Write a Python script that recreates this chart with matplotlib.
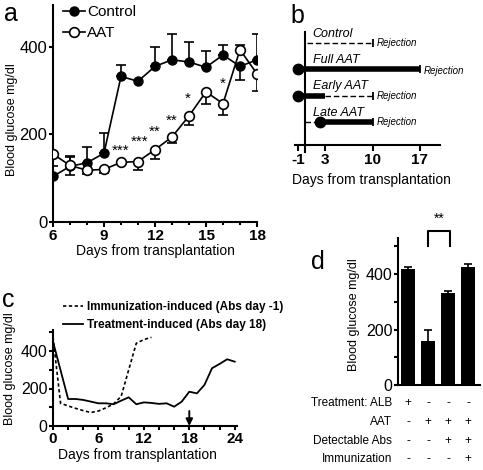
import numpy as np
import matplotlib.pyplot as plt

plt.rcParams['font.family'] = ['Liberation Sans', 'DejaVu Sans']
plt.rcParams['axes.unicode_minus'] = False
plt.rcParams['axes.linewidth'] = 1.5
plt.rcParams['xtick.major.width'] = 1.5
plt.rcParams['ytick.major.width'] = 1.5
plt.rcParams['xtick.minor.width'] = 1.5
plt.rcParams['ytick.minor.width'] = 1.5

# --- panel a: glucose after transplantation
days_a = np.arange(6, 19)
control = np.array([104, 127, 135, 157, 332, 321, 355, 370, 365, 353, 381, 355, 370])
control_up = np.array([24, 22, 37, 45, 26, 0, 45, 59, 46, 36, 23, 0, 59])
control_down = np.array([0, 0, 0, 0, 0, 0, 0, 0, 0, 0, 0, 30, 0])
aat = np.array([155, 129, 118, 120, 136, 138, 165, 194, 242, 297, 270, 393, 338])
aat_up = np.array([0, 22, 0, 0, 0, 0, 0, 0, 0, 0, 0, 11, 0])
aat_down = np.array([0, 22, 8, 8, 0, 20, 21, 14, 21, 28, 26, 0, 39])
star_x = [10.0, 11.1, 12.0, 13.0, 13.9, 16.0]
star_y = [174, 195, 216, 242, 291, 327]
star_txt = ['***', '***', '**', '**', '*', '*']

# --- panel b: treatment schedules
rows = ['Control', 'Full AAT', 'Early AAT', 'Late AAT']
row_y = [4, 3, 2, 1]
treat_start = [None, -1, -1, 2.2]
treat_end = [None, 17, 3, 10]
dash_start = [0.3, None, 3, 0]
dash_end = [10, None, 10, 2.2]
reject_day = [10, 17, 10, 10]
b_ticks = [-1, 3, 10, 17]

# --- panel c: single mice
immun_days = [0, 1, 2, 3, 4, 5, 6, 7, 8, 9, 10, 11, 12, 13]
immun = [475, 121, 107, 94, 82, 72, 80, 97, 118, 158, 300, 441, 461, 473]
treat_days = [0, 2, 3, 4, 5, 6, 7, 8, 9, 10, 11, 12, 13, 14, 15, 16, 17, 18, 19, 20, 21, 22, 23, 24]
treat = [450, 144, 144, 139, 130, 121, 121, 116, 135, 153, 116, 126, 123, 118, 121, 103, 130, 183,
         174, 219, 308, 331, 356, 343]

# --- panel d: groups
bar_vals = [420, 160, 330, 425]
bar_err = [6, 37, 10, 10]
table_rows = ['Treatment: ALB', 'AAT', 'Detectable Abs', 'Immunization']
table_signs = [['+', '-', '-', '-'],
               ['-', '+', '+', '+'],
               ['-', '-', '+', '+'],
               ['-', '-', '-', '+']]

W, H = 483, 470
fig = plt.figure(figsize=(W / 100, H / 100), dpi=100)


def box(l, t, r, b):
    return [l / W, 1 - b / H, (r - l) / W, (b - t) / H]


def clean(ax):
    ax.spines['top'].set_visible(False)
    ax.spines['right'].set_visible(False)


# ===== a =====
ax = fig.add_axes(box(53, 5, 257, 222))
clean(ax)
m = (control_up + control_down) > 0
ax.errorbar(days_a[m], control[m], yerr=[control_down[m], control_up[m]], fmt='none',
            ecolor='k', elinewidth=1.2, capsize=3.5, capthick=1.2, zorder=2)
m = (aat_up + aat_down) > 0
ax.errorbar(days_a[m], aat[m], yerr=[aat_down[m], aat_up[m]], fmt='none',
            ecolor='k', elinewidth=1.2, capsize=3.5, capthick=1.2, zorder=2)
l1, = ax.plot(days_a, control, '-o', color='k', lw=1.2, ms=6.5, zorder=3, label='Control')
l2, = ax.plot(days_a, aat, '-o', color='k', lw=1.2, ms=7, mfc='white', mew=1.2, zorder=4,
              label='AAT')
for x, y, s in zip(star_x, star_y, star_txt):
    ax.text(x, y - 20, s, fontsize=11, ha='center', va='baseline')
ax.set_xlim(6, 18)
ax.set_ylim(0, 495)
ax.set_xticks([6, 9, 12, 15, 18])
ax.set_xticks(days_a, minor=True)
ax.set_yticks([0, 200, 400])
ax.tick_params(axis='x', labelsize=11, length=3.5, pad=1.5)
ax.tick_params(axis='x', which='minor', length=2.5)
ax.tick_params(axis='y', labelsize=12, length=3, pad=1)
for t in ax.get_xticklabels():
    t.set_fontweight('bold')
ax.set_ylabel('Blood glucose mg/dl', fontsize=9)
ax.yaxis.set_label_coords(-0.17, 0.47)
ax.set_xlabel('Days from transplantation', fontsize=10)
ax.xaxis.set_label_coords(0.5, -0.103)
fig.legend(handles=[l1, l2], loc='upper left', bbox_to_anchor=(63 / W, 1 - 5 / H),
           frameon=False, fontsize=11, handlelength=1.45, handletextpad=0.15,
           borderpad=0, borderaxespad=0, labelspacing=0.45)

# ===== b =====
ax = fig.add_axes(box(295, 32, 440, 145))
ax.spines['top'].set_visible(False)
ax.spines['right'].set_visible(False)
ax.spines['left'].set_visible(False)
ax.set_xlim(-1.5, 20)
ax.set_ylim(0.125, 4.42)
ax.axvline(0, ymin=-0.06, ymax=1, color='k', lw=1.5, clip_on=False)
for i, name in enumerate(rows):
    y = row_y[i]
    if dash_start[i] is not None:
        ax.plot([dash_start[i], dash_end[i]], [y, y], color='k', lw=1, ls=(0, (4, 2)))
    if treat_start[i] is not None:
        ax.plot([treat_start[i], treat_end[i]], [y, y], color='k', lw=4, solid_capstyle='butt')
        ax.plot([treat_start[i]], [y], 'o', color='k', ms=7.5, clip_on=False)
    ax.plot([reject_day[i]], [y], '|', color='k', ms=6, mew=1.3)
    ax.text(1.1, y + 0.35, name, fontsize=9, style='italic', ha='left', va='center')
    dy = -0.05 if reject_day[i] == 17 else 0
    ax.text(reject_day[i] + 0.6, y + dy, 'Rejection', fontsize=7, style='italic',
            ha='left', va='center')
ax.set_yticks([])
ax.set_xticks(b_ticks)
ax.tick_params(axis='x', labelsize=11, length=4, pad=2)
for t in ax.get_xticklabels():
    t.set_fontweight('bold')
ax.set_xlabel('Days from transplantation', fontsize=10)
ax.xaxis.set_label_coords(0.53, -0.25)

# ===== c =====
ax = fig.add_axes(box(53, 330, 237, 426))
clean(ax)
h1, = ax.plot(immun_days, immun, color='k', lw=1.2, ls=(0, (2, 1.5)),
              label='Immunization-induced (Abs day -1)')
h2, = ax.plot(treat_days, treat, color='k', lw=1.3, label='Treatment-induced (Abs day 18)')
ax.annotate('', xy=(18, 0), xytext=(18, 80),
            arrowprops=dict(arrowstyle='-|>', color='k', lw=1.4, mutation_scale=10,
                            shrinkA=0, shrinkB=0))
ax.set_xlim(0, 24.3)
ax.set_ylim(0, 512)
ax.set_xticks([0, 6, 12, 18, 24])
ax.set_xticks(np.arange(0, 25, 2), minor=True)
ax.set_yticks([0, 200, 400])
ax.set_yticks([100, 300, 500], minor=True)
ax.tick_params(axis='x', labelsize=11, length=3, pad=1)
ax.tick_params(axis='x', which='minor', length=3)
ax.tick_params(axis='y', labelsize=11.5, length=3, pad=1)
ax.tick_params(axis='y', which='minor', length=3)
for t in ax.get_xticklabels():
    t.set_fontweight('bold')
ax.set_ylabel('Blood glucose mg/dl', fontsize=9)
ax.yaxis.set_label_coords(-0.2, 0.6)
ax.set_xlabel('Days from transplantation', fontsize=10)
ax.xaxis.set_label_coords(0.46, -0.23)
fig.legend(handles=[h1, h2], loc='upper left', bbox_to_anchor=(63 / W, 1 - 301 / H),
           frameon=False, prop={'size': 8.5, 'weight': 'bold'}, handlelength=1.7,
           handletextpad=0.35, borderpad=0, borderaxespad=0, labelspacing=0.55)

# ===== d =====
ax = fig.add_axes(box(398, 238, 480, 385))
clean(ax)
pos = np.arange(1, len(bar_vals) + 1)
ax.bar(pos, bar_vals, width=0.7, color='k', yerr=bar_err, capsize=3,
       error_kw=dict(elinewidth=1.2, capthick=1.2, ecolor='k'))
ax.set_xlim(0.5, 4.6)
ax.set_ylim(0, 530)
ax.set_xticks([])
ax.set_yticks([0, 200, 400])
ax.set_yticks([100, 300, 500], minor=True)
ax.tick_params(axis='y', labelsize=11.5, length=3, pad=1)
ax.tick_params(axis='y', which='minor', length=3)
ax.set_ylabel('Blood glucose mg/dl', fontsize=9)
ax.yaxis.set_label_coords(-0.46, 0.476)
ax.plot([2, 2, 3.1, 3.1], [500, 555, 555, 500], color='k', lw=1.5, clip_on=False)
ax.text(2.55, 585, '**', fontsize=10, ha='center', va='baseline')
tr = ax.get_xaxis_transform()
row_frac = [-0.122, -0.252, -0.381, -0.503]
for j, lab in enumerate(table_rows):
    ax.text(0.2, row_frac[j], lab, transform=tr, fontsize=8.5, ha='right', va='center')
    for k, s in enumerate(table_signs[j]):
        ax.text(pos[k], row_frac[j], s, transform=tr, fontsize=8.5, ha='center', va='center')

# panel letters
for x, y, s in [(11, 14, 'a'), (297, 16, 'b'), (8, 300, 'c'), (318, 262, 'd')]:
    fig.text(x / W, 1 - y / H, s, fontsize=18, ha='center', va='center')

fig.savefig('out.png', dpi=100)
